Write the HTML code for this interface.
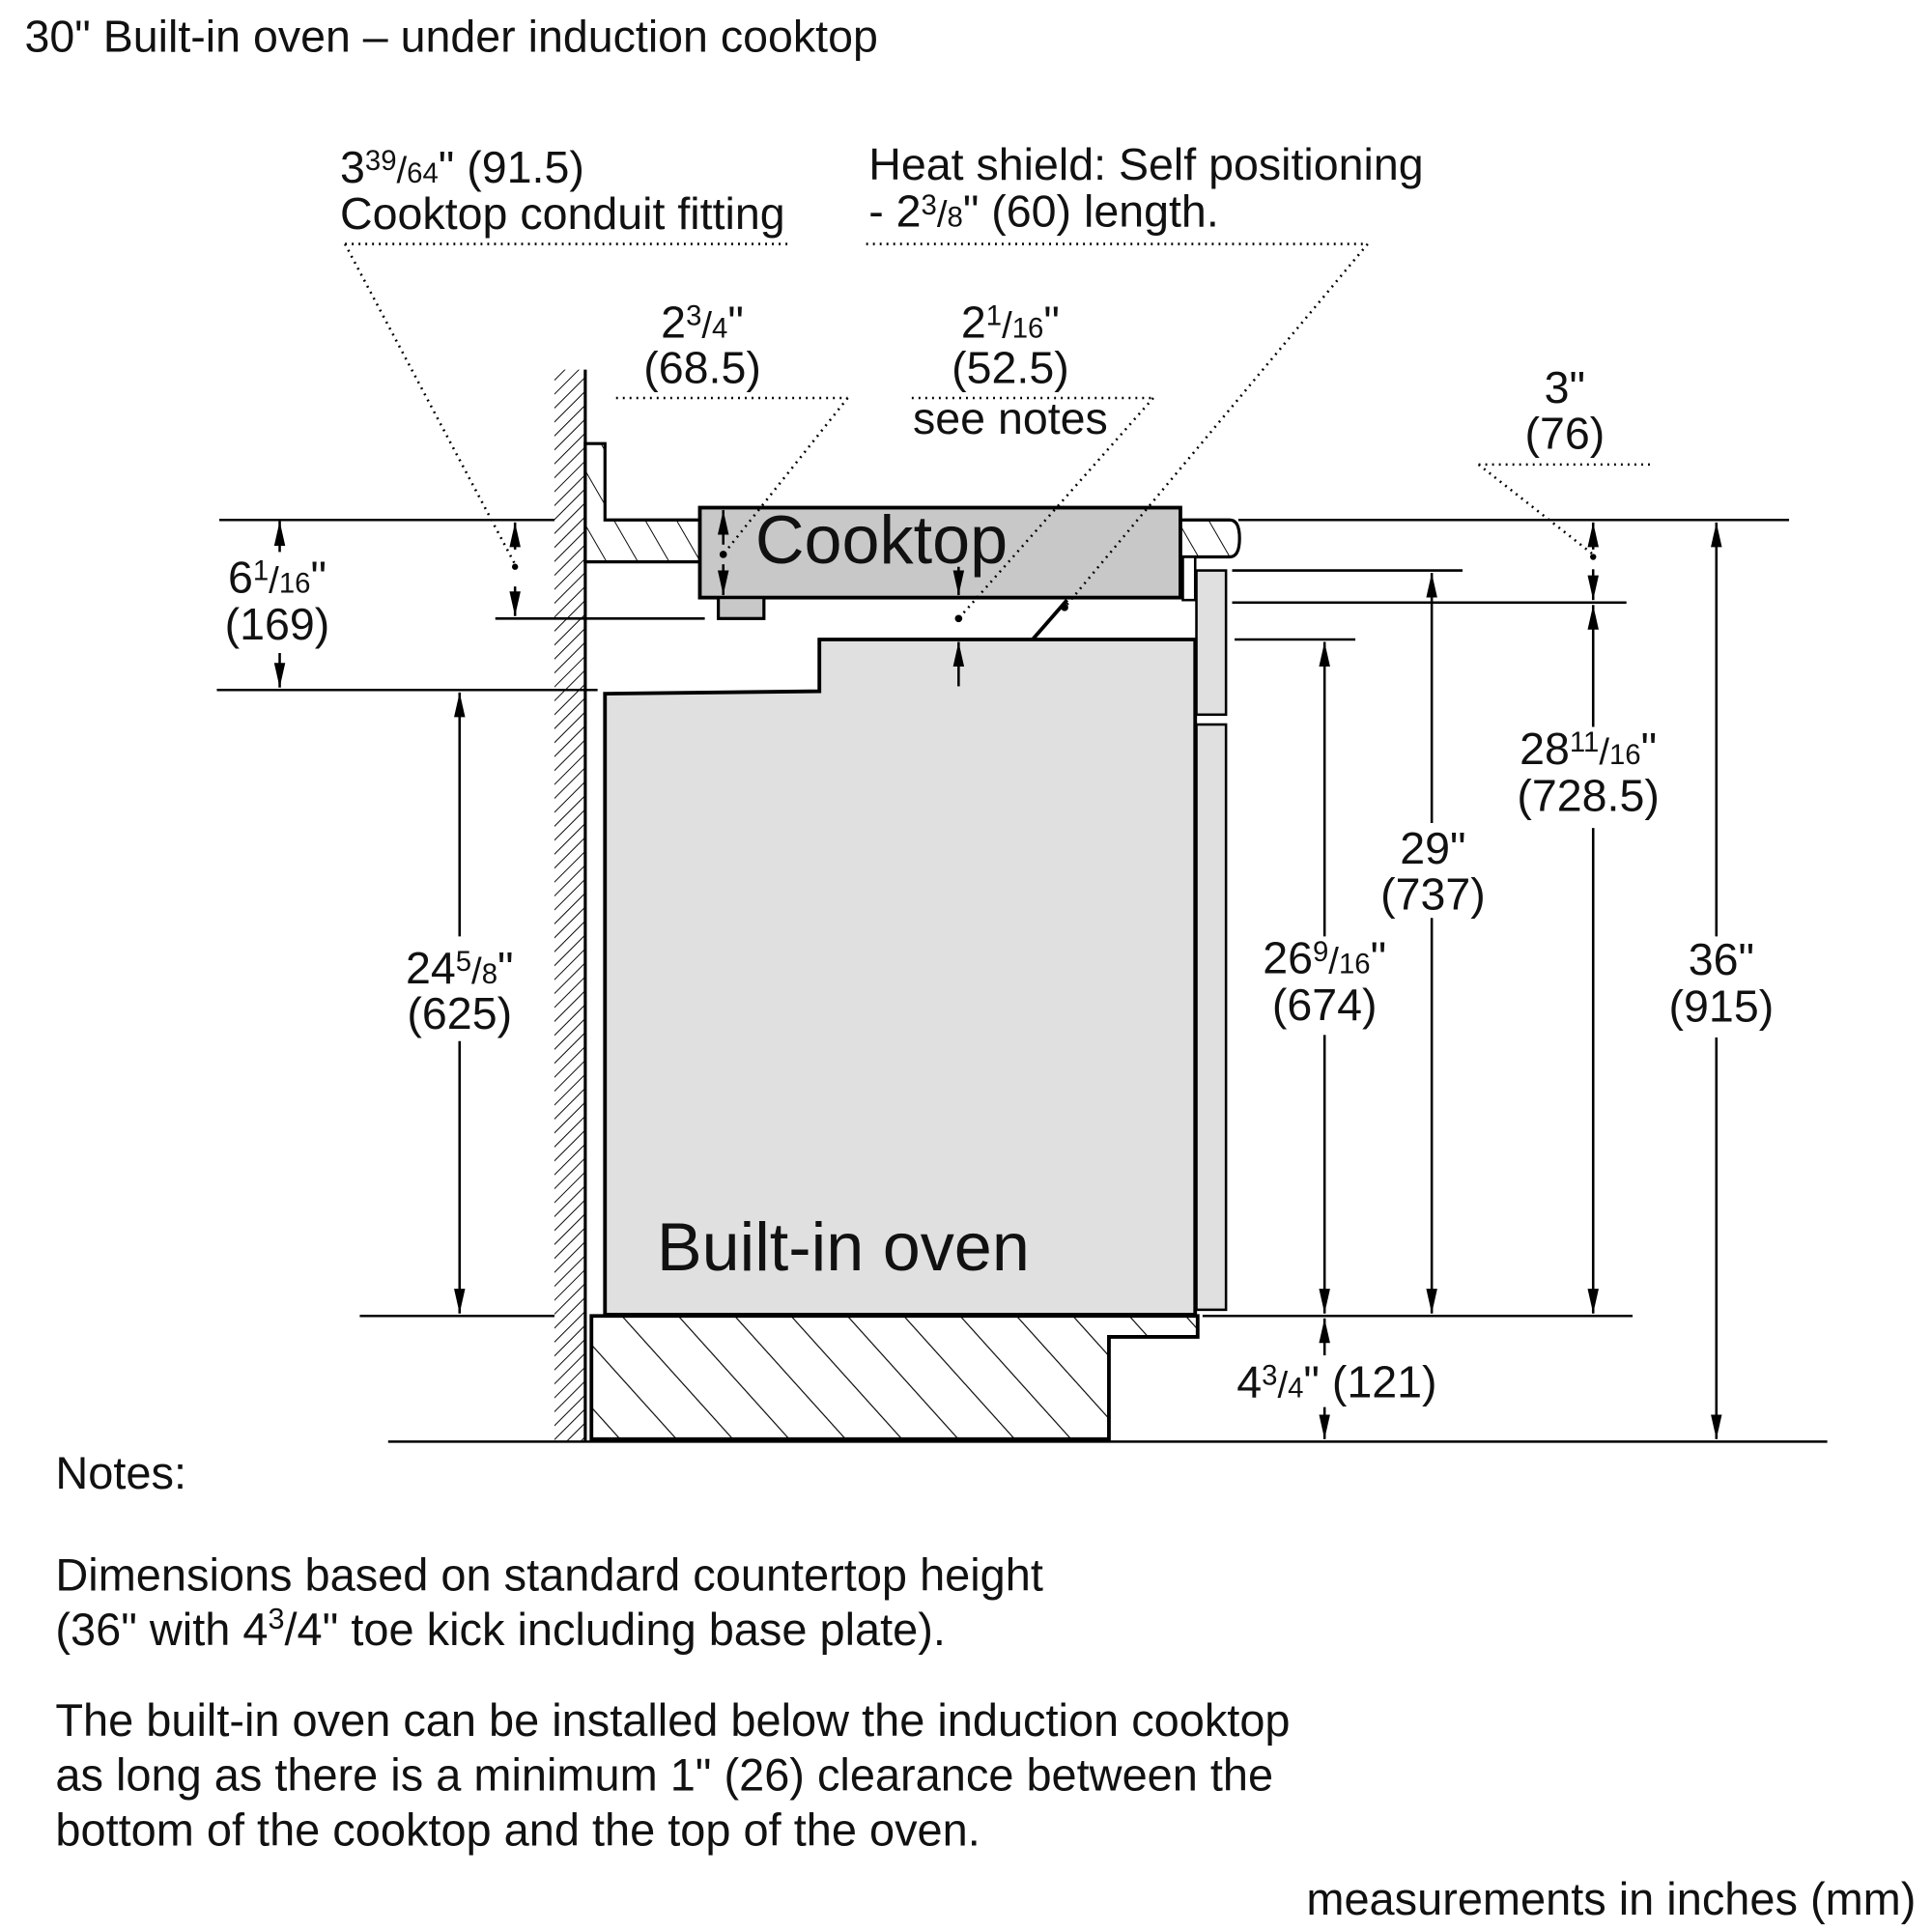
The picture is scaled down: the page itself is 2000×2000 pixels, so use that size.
<!DOCTYPE html>
<html><head><meta charset="utf-8"><style>
html,body{margin:0;padding:0;background:#fff;}
svg{display:block}
text{font-family:"Liberation Sans",Arial,sans-serif;fill:#111}
</style></head><body>
<svg width="2000" height="2000" viewBox="0 0 1568 1568" xmlns="http://www.w3.org/2000/svg">
<defs>
<marker id="a" viewBox="0 0 20 10" refX="20" refY="5" markerWidth="20" markerHeight="10" markerUnits="userSpaceOnUse" orient="auto-start-reverse" preserveAspectRatio="none">
<path d="M0,0.5 L20,5 L0,9.5 z" fill="#000"/>
</marker>
<pattern id="hw" patternUnits="userSpaceOnUse" width="8" height="8" patternTransform="rotate(45)"><line x1="0" y1="0" x2="0" y2="8" stroke="#000" stroke-width="1.5"/></pattern>
<pattern id="hc" patternUnits="userSpaceOnUse" width="22" height="22" patternTransform="rotate(-30)"><line x1="0" y1="0" x2="0" y2="22" stroke="#000" stroke-width="1.5"/></pattern>
<pattern id="hb" patternUnits="userSpaceOnUse" width="34" height="34" patternTransform="rotate(-42)"><line x1="0" y1="0" x2="0" y2="34" stroke="#000" stroke-width="1.8"/></pattern>
</defs>

<text x="20" y="42" font-size="36.5">30" Built-in oven – under induction cooktop</text>

<!-- wall -->
<rect x="450" y="300" width="25" height="870" fill="url(#hw)"/>
<line x1="475" y1="300" x2="475" y2="1170" stroke="#000" stroke-width="2.5"/>

<path d="M475,360 H491 V422 H568 V456 H475 Z" fill="url(#hc)" stroke="#000" stroke-width="2.5"/>
<path d="M958,422 H998 Q1006,422 1006,437 Q1006,452 998,452 H958 Z" fill="url(#hc)" stroke="#000" stroke-width="2.5"/>
<rect x="568" y="412" width="390" height="73" fill="#c8c8c8" stroke="#000" stroke-width="3"/>
<rect x="583" y="485" width="37" height="17" fill="#c8c8c8" stroke="#000" stroke-width="2.5"/>
<text x="613" y="457" font-size="55">Cooktop</text>

<rect x="960" y="452" width="10" height="35" fill="#fff" stroke="#000" stroke-width="2"/>
<rect x="971" y="463" width="24" height="117" fill="#e0e0e0" stroke="#000" stroke-width="2"/>
<rect x="971" y="588" width="24" height="475" fill="#e0e0e0" stroke="#000" stroke-width="2"/>

<path d="M491,563 L665,561 L665,519 L970,519 L970,1067 L491,1067 Z" fill="#e0e0e0" stroke="#000" stroke-width="3"/>
<text x="533" y="1031" font-size="55">Built-in oven</text>
<line x1="838" y1="519" x2="866" y2="487" stroke="#000" stroke-width="3"/>
<circle cx="864" cy="493" r="3" fill="#000"/>

<path d="M480,1068 H972 V1085 H900 V1168 H480 Z" fill="url(#hb)" stroke="#000" stroke-width="3"/>

<g stroke="#000" stroke-width="2">
<line x1="178" y1="422" x2="450" y2="422"/>
<line x1="1005" y1="422" x2="1452" y2="422"/>
<line x1="402" y1="502" x2="572" y2="502"/>
<line x1="176" y1="560" x2="485" y2="560"/>
<line x1="1000" y1="463" x2="1187" y2="463"/>
<line x1="1000" y1="489" x2="1320" y2="489"/>
<line x1="1002" y1="519" x2="1100" y2="519"/>
<line x1="292" y1="1068" x2="450" y2="1068"/>
<line x1="976" y1="1068" x2="1325" y2="1068"/>
<line x1="315" y1="1170" x2="1483" y2="1170"/>
</g>

<g stroke="#000" stroke-width="2" fill="none">
<line x1="227" y1="448" x2="227" y2="423" marker-end="url(#a)"/>
<line x1="227" y1="530" x2="227" y2="558" marker-end="url(#a)"/>
<line x1="418" y1="446" x2="418" y2="424" marker-end="url(#a)"/>
<line x1="418" y1="476" x2="418" y2="500" marker-end="url(#a)"/>
<line x1="373" y1="760" x2="373" y2="562" marker-end="url(#a)"/>
<line x1="373" y1="845" x2="373" y2="1066" marker-end="url(#a)"/>
<line x1="587" y1="442" x2="587" y2="414" marker-end="url(#a)"/>
<line x1="587" y1="458" x2="587" y2="483" marker-end="url(#a)"/>
<line x1="778" y1="460" x2="778" y2="483" marker-end="url(#a)"/>
<line x1="778" y1="557" x2="778" y2="521" marker-end="url(#a)"/>
<line x1="1075" y1="760" x2="1075" y2="521" marker-end="url(#a)"/>
<line x1="1075" y1="840" x2="1075" y2="1066" marker-end="url(#a)"/>
<line x1="1162" y1="668" x2="1162" y2="465" marker-end="url(#a)"/>
<line x1="1162" y1="745" x2="1162" y2="1066" marker-end="url(#a)"/>
<line x1="1293" y1="446" x2="1293" y2="424" marker-end="url(#a)"/>
<line x1="1293" y1="462" x2="1293" y2="487" marker-end="url(#a)"/>
<line x1="1293" y1="590" x2="1293" y2="491" marker-end="url(#a)"/>
<line x1="1293" y1="672" x2="1293" y2="1066" marker-end="url(#a)"/>
<line x1="1393" y1="760" x2="1393" y2="424" marker-end="url(#a)"/>
<line x1="1393" y1="842" x2="1393" y2="1168" marker-end="url(#a)"/>
<line x1="1075" y1="1100" x2="1075" y2="1070" marker-end="url(#a)"/>
<line x1="1075" y1="1142" x2="1075" y2="1168" marker-end="url(#a)"/>
</g>
<g fill="#000">
<circle cx="418" cy="460" r="2.5"/>
<circle cx="587" cy="450" r="3"/>
<circle cx="778" cy="502" r="3"/>
<circle cx="1293" cy="452" r="2.5"/>
</g>

<g stroke="#000" stroke-width="2" stroke-dasharray="1.5 4" fill="none">
<line x1="280" y1="198" x2="640" y2="198"/>
<line x1="280" y1="198" x2="418" y2="458"/>
<line x1="703" y1="198" x2="1110" y2="198"/>
<line x1="1110" y1="198" x2="864" y2="493"/>
<line x1="500" y1="323" x2="688" y2="323"/>
<line x1="688" y1="323" x2="587" y2="450"/>
<line x1="740" y1="323" x2="936" y2="323"/>
<line x1="936" y1="323" x2="778" y2="502"/>
<line x1="1200" y1="377" x2="1343" y2="377"/>
<line x1="1200" y1="377" x2="1293" y2="450"/>
</g>

<g font-size="36.5">
<text x="276" y="148">3<tspan font-size="23" dy="-10">39</tspan><tspan font-size="30" dy="10">/</tspan><tspan font-size="23">64</tspan>" (91.5)</text>
<text x="276" y="186">Cooktop conduit fitting</text>
<text x="705" y="146">Heat shield: Self positioning</text>
<text x="705" y="184">- 2<tspan font-size="23" dy="-10">3</tspan><tspan font-size="30" dy="10">/</tspan><tspan font-size="23">8</tspan>" (60)  length.</text>
<g text-anchor="middle">
<text x="570" y="274">2<tspan font-size="23" dy="-10">3</tspan><tspan font-size="30" dy="10">/</tspan><tspan font-size="23">4</tspan>"</text>
<text x="570" y="311">(68.5)</text>
<text x="820" y="274">2<tspan font-size="23" dy="-10">1</tspan><tspan font-size="30" dy="10">/</tspan><tspan font-size="23">16</tspan>"</text>
<text x="820" y="311">(52.5)</text>
<text x="820" y="352">see notes</text>
<text x="1270" y="327">3"</text>
<text x="1270" y="364">(76)</text>
<text x="225" y="481">6<tspan font-size="23" dy="-10">1</tspan><tspan font-size="30" dy="10">/</tspan><tspan font-size="23">16</tspan>"</text>
<text x="225" y="519">(169)</text>
<text x="373" y="798">24<tspan font-size="23" dy="-10">5</tspan><tspan font-size="30" dy="10">/</tspan><tspan font-size="23">8</tspan>"</text>
<text x="373" y="835">(625)</text>
<text x="1075" y="790">26<tspan font-size="23" dy="-10">9</tspan><tspan font-size="30" dy="10">/</tspan><tspan font-size="23">16</tspan>"</text>
<text x="1075" y="828">(674)</text>
<text x="1163" y="701">29"</text>
<text x="1163" y="738">(737)</text>
<text x="1289" y="620">28<tspan font-size="23" dy="-10">11</tspan><tspan font-size="30" dy="10">/</tspan><tspan font-size="23">16</tspan>"</text>
<text x="1289" y="658">(728.5)</text>
<text x="1397" y="791">36"</text>
<text x="1397" y="829">(915)</text>
<text x="1085" y="1134">4<tspan font-size="23" dy="-10">3</tspan><tspan font-size="30" dy="10">/</tspan><tspan font-size="23">4</tspan>" (121)</text>
</g>
</g>

<g font-size="36.8">
<text x="45" y="1208">Notes:</text>
<text x="45" y="1291">Dimensions based on standard countertop height</text>
<text x="45" y="1335">(36" with 4<tspan font-size="24" dy="-13">3</tspan><tspan dy="13">/4" toe kick including base plate).</tspan></text>
<text x="45" y="1409">The built-in oven can be installed below the induction cooktop</text>
<text x="45" y="1453">as long as there is a minimum 1" (26) clearance between the</text>
<text x="45" y="1498">bottom of the cooktop and the top of the oven.</text>
<text x="1555" y="1554" text-anchor="end">measurements in inches (mm)</text>
</g>
</svg>
</body></html>
